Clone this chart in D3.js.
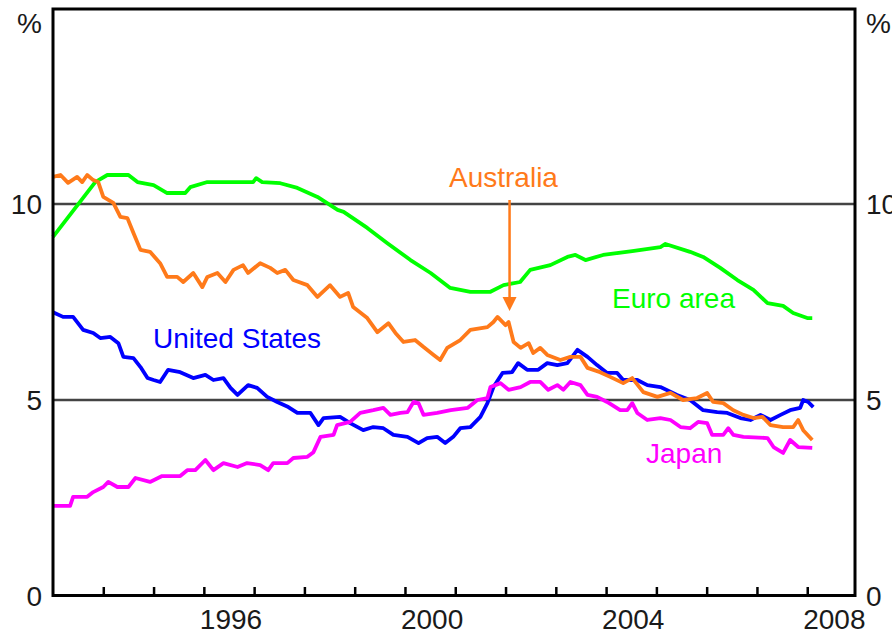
<!DOCTYPE html>
<html lang="en">

<head>
  <meta charset="UTF-8">
  <title>Long-term interest rates</title>
  <script src="https://d3js.org/d3.v7.min.js"></script>
  <style>
    body {
      margin: 0;
      background: #ffffff;
      font-family: "Liberation Sans", Arial, sans-serif;
    }

    .tick-label {
      fill: #1a1a1a;
      font-size: 28px;
    }

    .series {
      fill: none;
      stroke-width: 3.8;
      stroke-linejoin: round;
    }

    .series-label {
      font-size: 28px;
    }
  </style>
</head>

<body>
  <script>
    // series as [year, per cent]
    const euroArea = [
      [1993.00, 9.16], [1993.84, 10.56], [1994.08, 10.74], [1994.50, 10.74], [1994.68, 10.56],
      [1995.00, 10.48], [1995.27, 10.28], [1995.63, 10.28], [1995.73, 10.43], [1996.07, 10.56],
      [1996.98, 10.56], [1997.04, 10.66], [1997.16, 10.56], [1997.52, 10.53], [1997.86, 10.41],
      [1998.26, 10.18], [1998.66, 9.85], [1998.78, 9.80], [1999.25, 9.39], [1999.65, 9.00],
      [2000.11, 8.57], [2000.51, 8.24], [2000.90, 7.86], [2001.30, 7.76], [2001.70, 7.76],
      [2001.96, 7.93], [2002.29, 8.01], [2002.49, 8.32], [2002.89, 8.44], [2003.23, 8.65],
      [2003.39, 8.70], [2003.59, 8.57], [2003.94, 8.70], [2004.52, 8.80], [2005.08, 8.90],
      [2005.18, 8.98], [2005.67, 8.78], [2005.93, 8.65], [2006.27, 8.37], [2006.61, 8.06],
      [2006.93, 7.81], [2007.21, 7.47], [2007.52, 7.40], [2007.72, 7.22], [2008.00, 7.09],
      [2008.10, 7.09]
    ];

    const australia = [
      [1993.00, 10.69], [1993.15, 10.74], [1993.30, 10.54], [1993.48, 10.69], [1993.58, 10.56],
      [1993.68, 10.74], [1993.80, 10.61], [1993.90, 10.56], [1994.00, 10.18], [1994.20, 10.03],
      [1994.34, 9.67], [1994.48, 9.64], [1994.60, 9.26], [1994.74, 8.83], [1994.93, 8.78],
      [1995.13, 8.49], [1995.27, 8.14], [1995.47, 8.14], [1995.59, 8.01], [1995.79, 8.24],
      [1995.97, 7.88], [1996.07, 8.14], [1996.27, 8.24], [1996.43, 8.01], [1996.59, 8.32],
      [1996.78, 8.44], [1996.88, 8.24], [1997.12, 8.49], [1997.32, 8.37], [1997.46, 8.24],
      [1997.62, 8.32], [1997.78, 8.06], [1998.06, 7.93], [1998.26, 7.63], [1998.51, 7.93],
      [1998.71, 7.63], [1998.87, 7.73], [1998.97, 7.37], [1999.25, 7.09], [1999.45, 6.73],
      [1999.67, 6.96], [1999.81, 6.71], [1999.97, 6.48], [2000.20, 6.53], [2000.37, 6.35],
      [2000.57, 6.15], [2000.70, 6.02], [2000.84, 6.33], [2001.10, 6.53], [2001.30, 6.79],
      [2001.64, 6.86], [2001.76, 6.99], [2001.84, 7.12], [2002.00, 6.91], [2002.06, 6.99],
      [2002.16, 6.48], [2002.30, 6.33], [2002.46, 6.45], [2002.55, 6.20], [2002.69, 6.33],
      [2002.83, 6.15], [2003.09, 6.02], [2003.29, 6.10], [2003.49, 6.10], [2003.63, 5.82],
      [2003.88, 5.71], [2004.08, 5.59], [2004.34, 5.43], [2004.52, 5.56], [2004.74, 5.20],
      [2005.02, 5.08], [2005.28, 5.18], [2005.53, 5.00], [2005.81, 5.05], [2006.01, 5.18],
      [2006.13, 4.95], [2006.33, 4.92], [2006.53, 4.74], [2006.73, 4.62], [2006.93, 4.54],
      [2007.11, 4.57], [2007.27, 4.36], [2007.52, 4.31], [2007.72, 4.31], [2007.82, 4.49],
      [2007.92, 4.23], [2008.10, 3.98]
    ];

    const unitedStates = [
      [1993.00, 7.24], [1993.20, 7.12], [1993.40, 7.12], [1993.60, 6.79], [1993.80, 6.71],
      [1993.94, 6.58], [1994.14, 6.61], [1994.30, 6.45], [1994.40, 6.10], [1994.60, 6.07],
      [1994.74, 5.84], [1994.88, 5.56], [1995.00, 5.51], [1995.13, 5.46], [1995.29, 5.77],
      [1995.53, 5.71], [1995.79, 5.56], [1996.03, 5.64], [1996.19, 5.51], [1996.39, 5.56],
      [1996.53, 5.31], [1996.67, 5.13], [1996.88, 5.38], [1997.06, 5.31], [1997.26, 5.08],
      [1997.46, 4.95], [1997.68, 4.82], [1997.86, 4.67], [1998.12, 4.67], [1998.28, 4.36],
      [1998.38, 4.54], [1998.71, 4.57], [1998.91, 4.41], [1999.17, 4.23], [1999.37, 4.31],
      [1999.57, 4.28], [1999.77, 4.11], [2000.05, 4.06], [2000.27, 3.90], [2000.44, 4.03],
      [2000.64, 4.06], [2000.80, 3.90], [2000.96, 4.06], [2001.10, 4.28], [2001.30, 4.31],
      [2001.50, 4.57], [2001.64, 4.92], [2001.76, 5.33], [2001.94, 5.69], [2002.13, 5.71],
      [2002.25, 5.94], [2002.43, 5.77], [2002.65, 5.77], [2002.83, 5.94], [2003.03, 5.89],
      [2003.23, 5.94], [2003.43, 6.28], [2003.63, 6.10], [2003.82, 5.89], [2004.02, 5.69],
      [2004.22, 5.69], [2004.34, 5.51], [2004.62, 5.51], [2004.82, 5.38], [2005.08, 5.33],
      [2005.41, 5.13], [2005.67, 5.00], [2005.93, 4.74], [2006.21, 4.69], [2006.41, 4.67],
      [2006.67, 4.54], [2006.87, 4.49], [2007.07, 4.62], [2007.27, 4.49], [2007.47, 4.62],
      [2007.66, 4.74], [2007.86, 4.80], [2007.92, 5.00], [2008.02, 4.95], [2008.12, 4.82]
    ];

    const japan = [
      [1993.00, 2.30], [1993.34, 2.30], [1993.40, 2.53], [1993.68, 2.53], [1993.80, 2.65],
      [1994.00, 2.78], [1994.10, 2.91], [1994.28, 2.78], [1994.50, 2.78], [1994.64, 3.01],
      [1994.93, 2.91], [1995.17, 3.06], [1995.53, 3.06], [1995.67, 3.21], [1995.83, 3.21],
      [1996.03, 3.47], [1996.19, 3.21], [1996.39, 3.39], [1996.67, 3.29], [1996.86, 3.39],
      [1997.12, 3.34], [1997.28, 3.21], [1997.38, 3.39], [1997.66, 3.39], [1997.78, 3.52],
      [1998.06, 3.55], [1998.18, 3.67], [1998.32, 4.06], [1998.58, 4.11], [1998.65, 4.36],
      [1998.91, 4.44], [1999.11, 4.67], [1999.37, 4.74], [1999.57, 4.80], [1999.71, 4.62],
      [1999.91, 4.67], [2000.05, 4.69], [2000.17, 4.95], [2000.27, 4.92], [2000.37, 4.62],
      [2000.64, 4.67], [2000.91, 4.74], [2001.25, 4.80], [2001.44, 5.00], [2001.64, 5.05],
      [2001.70, 5.33], [2001.90, 5.43], [2002.06, 5.26], [2002.30, 5.33], [2002.49, 5.46],
      [2002.69, 5.46], [2002.85, 5.26], [2003.03, 5.38], [2003.15, 5.26], [2003.29, 5.46],
      [2003.49, 5.38], [2003.63, 5.13], [2003.82, 5.08], [2004.02, 4.95], [2004.28, 4.74],
      [2004.42, 4.74], [2004.52, 4.92], [2004.62, 4.67], [2004.82, 4.49], [2005.08, 4.54],
      [2005.28, 4.49], [2005.48, 4.31], [2005.67, 4.28], [2005.83, 4.44], [2006.01, 4.41],
      [2006.11, 4.11], [2006.33, 4.11], [2006.43, 4.28], [2006.53, 4.11], [2006.73, 4.06],
      [2007.21, 4.03], [2007.33, 3.80], [2007.52, 3.65], [2007.66, 3.98], [2007.82, 3.80],
      [2008.10, 3.78]
    ];

    const yearTicks = d3.range(1994, 2009);
    const yearLabels = [1996, 2000, 2004, 2008];
    const valueTicks = [0, 5, 10];
    const gridValues = [5, 10];

    const W = 892, H = 632;
    const plotLeft = 53, plotRight = 855, plotTop = 8, plotBottom = 596;

    const svg = d3.select("body").append("svg")
      .attr("width", W)
      .attr("height", H);

    const x = d3.scaleLinear().domain([1993, 2008.95]).range([plotLeft, plotRight]);
    const y = d3.scaleLinear().domain([0, 15]).range([plotBottom, plotTop]);

    // horizontal grid lines
    svg.selectAll(".grid")
      .data(gridValues)
      .enter().append("line")
      .attr("x1", plotLeft).attr("x2", plotRight)
      .attr("y1", d => y(d)).attr("y2", d => y(d))
      .attr("stroke", "#444")
      .attr("stroke-width", 2.5);

    // year ticks pointing up into the plot
    const xAxis = svg.append("g")
      .attr("transform", "translate(0," + y(0) + ")")
      .call(d3.axisBottom(x).tickValues(yearTicks).tickSize(-9).tickFormat(""));
    xAxis.select(".domain").remove();
    xAxis.selectAll(".tick line").attr("stroke", "#000").attr("stroke-width", 2.5);

    // year labels sit in the middle of each year
    svg.selectAll(".year-label")
      .data(yearLabels)
      .enter().append("text")
      .attr("class", "tick-label")
      .attr("x", d => x(d + 0.5) + 2)
      .attr("y", 629)
      .attr("text-anchor", "middle")
      .text(d => d);

    // value labels, both sides
    svg.selectAll(".left-label")
      .data(valueTicks)
      .enter().append("text")
      .attr("class", "tick-label")
      .attr("x", 42)
      .attr("y", d => y(d) + 10)
      .attr("text-anchor", "end")
      .text(d => d);

    svg.selectAll(".right-label")
      .data(valueTicks)
      .enter().append("text")
      .attr("class", "tick-label")
      .attr("x", 866)
      .attr("y", d => y(d) + 10)
      .attr("text-anchor", "start")
      .text(d => d);

    svg.append("text").attr("class", "tick-label")
      .attr("x", 42).attr("y", 33).attr("text-anchor", "end").text("%");
    svg.append("text").attr("class", "tick-label")
      .attr("x", 866).attr("y", 33).attr("text-anchor", "start").text("%");

    const line = d3.line()
      .x(d => x(d[0]))
      .y(d => y(d[1]));

    const series = [
      {data: unitedStates, color: "#0000ff"},
      {data: japan, color: "#ff00ff"},
      {data: euroArea, color: "#00ff00"},
      {data: australia, color: "#ff7a1a"}
    ];

    svg.selectAll(".series")
      .data(series)
      .enter().append("path")
      .attr("class", "series")
      .attr("stroke", d => d.color)
      .attr("d", d => line(d.data));

    // frame on top
    svg.append("rect")
      .attr("x", plotLeft).attr("y", plotTop + 1)
      .attr("width", plotRight - plotLeft).attr("height", plotBottom - plotTop - 1.5)
      .attr("fill", "none")
      .attr("stroke", "#000")
      .attr("stroke-width", 3);

    // labels
    svg.append("text").attr("class", "series-label")
      .attr("x", 449).attr("y", 187).attr("fill", "#ff7a1a").text("Australia");
    svg.append("text").attr("class", "series-label")
      .attr("x", 153).attr("y", 348).attr("fill", "#0000ff").text("United States");
    svg.append("text").attr("class", "series-label")
      .attr("x", 612).attr("y", 308).attr("fill", "#00ff00").text("Euro area");
    svg.append("text").attr("class", "series-label")
      .attr("x", 646).attr("y", 463).attr("fill", "#ff00ff").text("Japan");

    // arrow from the Australia label down to the line
    const ax = x(2002.08);
    svg.append("line")
      .attr("x1", ax).attr("x2", ax)
      .attr("y1", 200).attr("y2", 300)
      .attr("stroke", "#ff7a1a")
      .attr("stroke-width", 2.5);
    svg.append("path")
      .attr("d", "M" + (ax - 7) + ",297 L" + (ax + 7) + ",297 L" + ax + ",311 Z")
      .attr("fill", "#ff7a1a");
  </script>
</body>

</html>
